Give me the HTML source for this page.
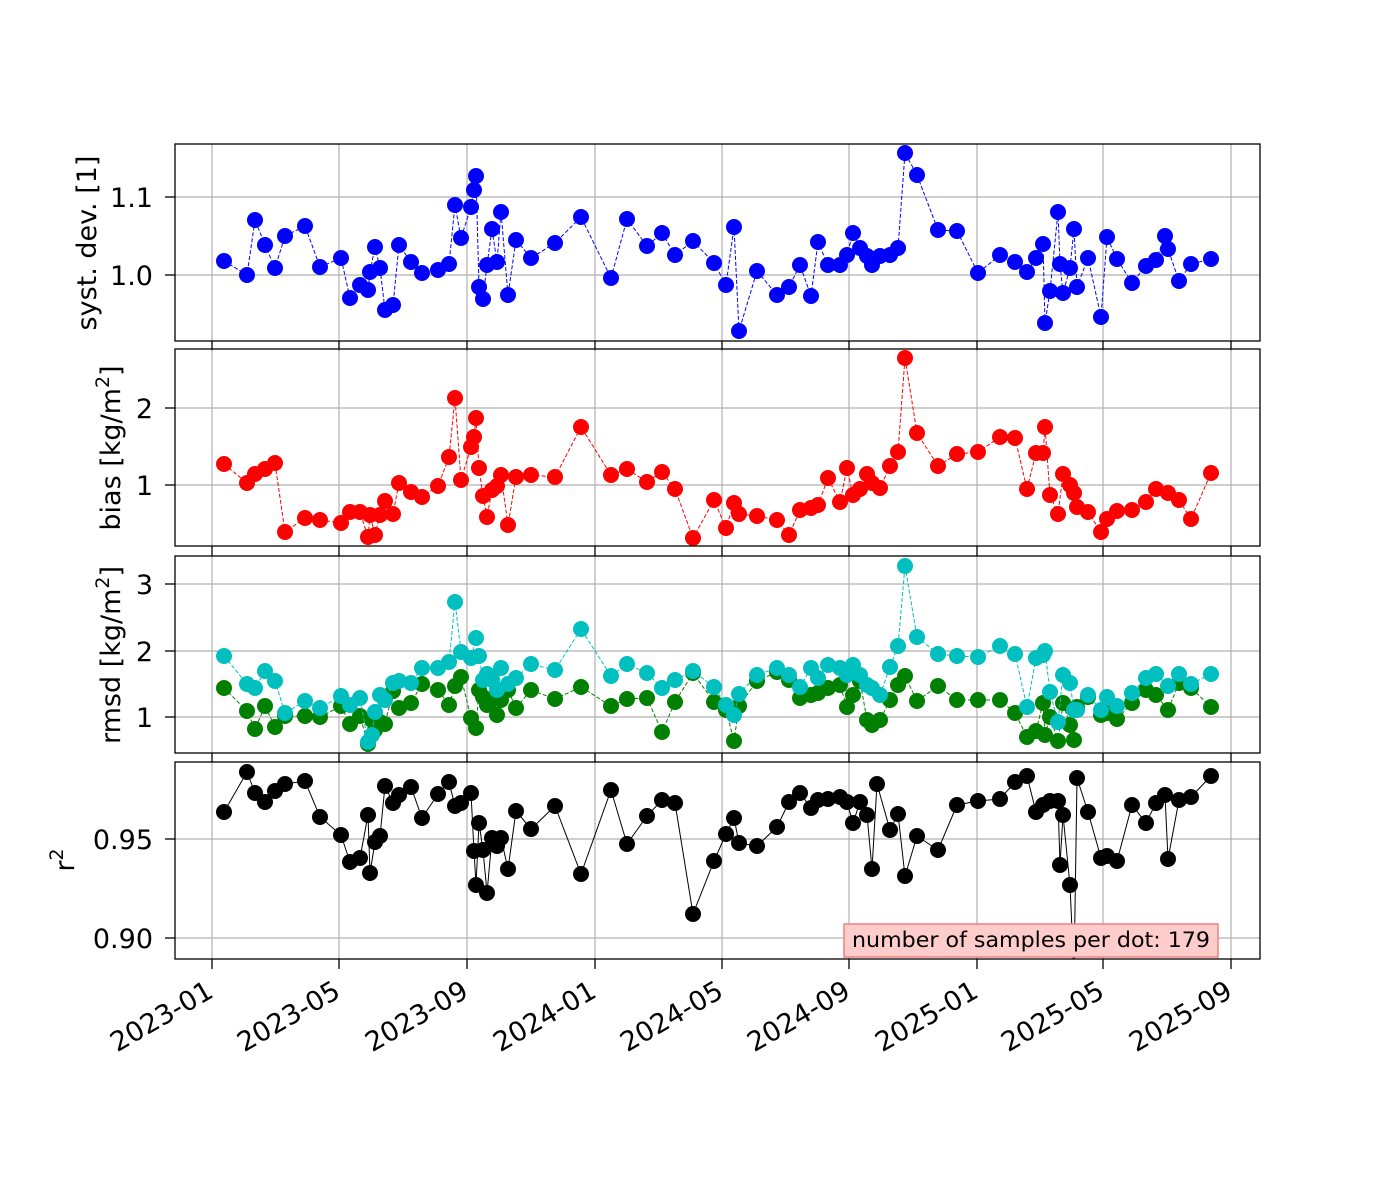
<!DOCTYPE html>
<html><head><meta charset="utf-8"><style>
body{margin:0;background:#fff}
svg{display:block}
text{font-family:"DejaVu Sans","Liberation Sans",sans-serif;fill:#000}
</style></head><body>
<svg id="s" width="1400" height="1200" xmlns="http://www.w3.org/2000/svg"></svg>
<script>
const S=document.getElementById('s');let h='';
const panels=[[144,341],[349,546],[556,753],[762,959]];
const X0=175,X1=1260;
const xt=[[212,'2023-01'],[339,'2023-05'],[467,'2023-09'],[595,'2024-01'],[722,'2024-05'],[849,'2024-09'],[977,'2025-01'],[1103,'2025-05'],[1231,'2025-09']];
const yt=[[[197,'1.1'],[275,'1.0']],[[408,'2'],[485,'1']],[[584,'3'],[651,'2'],[717,'1']],[[839,'0.95'],[938,'0.90']]];
h+='<defs>';panels.forEach((p,i)=>{h+=`<clipPath id="c${i}"><rect x="${X0}" y="${p[0]}" width="${X1-X0}" height="${p[1]-p[0]}"/></clipPath>`});h+='</defs>';
panels.forEach((p,i)=>{
 xt.forEach(t=>{h+=`<line x1="${t[0]}" x2="${t[0]}" y1="${p[0]}" y2="${p[1]}" stroke="#b0b0b0" stroke-width="1.2"/>`;h+=`<line x1="${t[0]}" x2="${t[0]}" y1="${p[1]}" y2="${p[1]+10}" stroke="#000" stroke-width="1.3"/>`});
 yt[i].forEach(t=>{h+=`<line x1="${X0}" x2="${X1}" y1="${t[0]}" y2="${t[0]}" stroke="#b0b0b0" stroke-width="1.2"/>`;h+=`<line x1="${X0-10}" x2="${X0}" y1="${t[0]}" y2="${t[0]}" stroke="#000" stroke-width="1.3"/><text x="${X0-22}" y="${t[0]+10}" font-size="27" text-anchor="end">${t[1]}</text>`});
});
function P(s){return s.match(/\d+,\d+/g).map(a=>a.split(',').map(Number))}
const blue=P(`(224,261),(247,275),(255,220),(265,245),(275,268),(285,236),(305,226),(320,267),(341,258),(350,298),(360,285),(368,290),(370,272),(375,247),(380,268),(385,310),(393,305),(399,245),(411,262),(422,273),(438,270),(449,264),(455,205),(461,238),(471,207),(474,190),(476,176),(479,287),(483,299),(487,265),(492,229),(497,262),(501,212),(508,295),(516,240),(531,258),(555,243),(581,217),(611,278),(627,219),(647,246),(662,233),(675,255),(693,241),(714,263),(726,285),(734,227),(739,331),(757,271),(777,295),(789,287),(800,265),(811,296),(818,242),(828,265),(840,265),(847,255),(853,233),(860,248),(867,256),(872,265),(880,256),(890,255),(898,248),(905,153),(917,175),(938,230),(957,231),(978,273),(1000,255),(1015,262),(1027,272),(1036,258),(1043,244),(1045,323),(1050,291),(1058,212),(1060,264),(1063,293),(1070,268),(1074,229),(1077,287),(1088,258),(1101,317),(1107,237),(1117,259),(1132,283),(1146,266),(1156,260),(1165,236),(1168,249),(1179,281),(1191,264),(1211,259)`);
const red=P(`(224,464),(247,483),(255,474),(265,469),(275,463),(285,532),(305,518),(320,520),(341,523),(350,512),(360,512),(368,537),(370,515),(375,535),(380,515),(385,501),(393,514),(399,483),(411,492),(422,497),(438,486),(449,457),(455,398),(461,480),(471,447),(474,437),(476,418),(479,468),(483,496),(487,517),(492,490),(497,486),(501,475),(508,525),(516,477),(531,475),(555,477),(581,427),(611,475),(627,469),(647,482),(662,472),(675,489),(693,538),(714,500),(726,528),(734,503),(739,514),(757,516),(777,520),(789,535),(800,510),(811,508),(818,505),(828,478),(840,502),(847,468),(853,495),(860,489),(867,474),(872,483),(880,488),(890,466),(898,452),(905,358),(917,433),(938,466),(957,454),(978,452),(1000,437),(1015,438),(1027,489),(1036,453),(1043,453),(1045,427),(1050,495),(1058,514),(1063,474),(1070,485),(1074,493),(1077,507),(1088,512),(1101,532),(1107,519),(1117,511),(1132,510),(1146,502),(1156,489),(1168,493),(1179,500),(1191,519),(1211,473)`);
const green=P(`(224,688),(247,711),(255,729),(265,706),(275,727),(285,716),(305,716),(320,717),(341,706),(350,724),(360,716),(368,744),(372,720),(375,730),(380,722),(385,724),(393,691),(399,708),(411,703),(422,684),(438,690),(449,705),(455,686),(461,677),(471,718),(476,728),(479,690),(483,697),(487,705),(492,700),(497,715),(501,700),(508,690),(516,708),(531,690),(555,699),(581,687),(611,706),(627,699),(647,698),(662,732),(675,702),(693,673),(714,702),(726,710),(734,741),(739,706),(757,681),(777,672),(789,680),(800,698),(811,695),(818,693),(828,688),(840,685),(847,707),(853,695),(860,681),(867,720),(872,725),(880,720),(890,700),(898,685),(905,676),(917,701),(938,686),(957,700),(978,700),(1000,700),(1015,713),(1027,737),(1036,731),(1043,703),(1045,735),(1050,717),(1058,741),(1063,703),(1070,725),(1074,740),(1077,707),(1088,697),(1101,715),(1107,713),(1117,719),(1132,703),(1146,690),(1156,695),(1168,710),(1179,683),(1191,688),(1211,707)`);
const cyan=P(`(224,656),(247,684),(255,688),(265,671),(275,681),(285,713),(305,701),(320,708),(341,696),(350,705),(360,698),(368,742),(372,735),(375,712),(380,695),(385,700),(393,683),(399,681),(411,683),(422,668),(438,668),(449,662),(455,602),(461,652),(471,658),(476,638),(479,656),(483,680),(487,674),(492,680),(497,690),(501,668),(508,684),(516,678),(531,664),(555,670),(581,629),(611,676),(627,664),(647,673),(662,688),(675,680),(693,671),(714,687),(726,705),(734,715),(739,694),(757,675),(777,668),(789,675),(800,687),(811,668),(818,678),(828,665),(840,668),(847,675),(853,665),(860,675),(867,685),(872,688),(880,695),(890,667),(898,646),(905,566),(917,637),(938,654),(957,656),(978,657),(1000,646),(1015,654),(1027,707),(1036,658),(1043,655),(1045,651),(1050,692),(1058,722),(1063,675),(1070,683),(1074,710),(1077,710),(1088,695),(1101,710),(1107,697),(1117,706),(1132,693),(1146,678),(1156,674),(1168,686),(1179,674),(1191,684),(1211,674)`);
const black=P(`(224,812),(247,772),(255,793),(265,802),(275,791),(285,784),(305,781),(320,817),(341,835),(350,862),(360,858),(368,815),(370,873),(375,842),(380,836),(385,786),(393,803),(399,795),(411,787),(422,818),(438,794),(449,782),(455,806),(461,803),(471,793),(474,851),(476,885),(479,823),(483,850),(487,893),(492,838),(497,846),(501,838),(508,869),(516,811),(531,829),(555,806),(581,874),(611,790),(627,844),(647,816),(662,800),(675,803),(693,914),(714,861),(726,834),(734,818),(739,843),(757,846),(777,827),(789,802),(800,793),(811,808),(818,800),(828,799),(840,797),(847,802),(853,823),(860,802),(867,815),(872,869),(877,784),(890,830),(898,814),(905,876),(917,836),(938,850),(957,805),(978,801),(1000,799),(1015,782),(1027,776),(1036,812),(1043,805),(1050,801),(1058,801),(1060,865),(1063,815),(1070,885),(1074,975),(1077,778),(1088,812),(1101,858),(1107,856),(1117,861),(1132,805),(1146,823),(1156,803),(1165,795),(1168,859),(1179,800),(1191,797),(1211,776)`);
function series(pts,col,dash,ci){
 h+=`<g clip-path="url(#c${ci})"><polyline fill="none" stroke="${col}" stroke-width="1" ${dash?'stroke-dasharray="4,2"':''} points="${pts.map(p=>p.join(',')).join(' ')}"/>`;
 pts.forEach(p=>h+=`<circle cx="${p[0]}" cy="${p[1]}" r="8" fill="${col}"/>`);h+='</g>';
}
series(blue,'#0000ff',1,0);series(red,'#ff0000',1,1);series(green,'#008000',1,2);series(cyan,'#00bfbf',1,2);series(black,'#000',0,3);
panels.forEach(p=>{h+=`<rect x="${X0}" y="${p[0]}" width="${X1-X0}" height="${p[1]-p[0]}" fill="none" stroke="#000" stroke-width="1.3"/>`});
xt.forEach(t=>{h+=`<text transform="translate(${t[0]+3},${996}) rotate(-30)" font-size="27" text-anchor="end" textLength="113" lengthAdjust="spacingAndGlyphs">${t[1]}</text>`});
const yl=[[243,'syst. dev. [1]'],[448,'bias [kg/m<tspan dy="-11" font-size="19">2</tspan><tspan dy="11">]</tspan>'],[655,'rmsd [kg/m<tspan dy="-11" font-size="19">2</tspan><tspan dy="11">]</tspan>'],[860,'r<tspan dy="-11" font-size="19">2</tspan>']];
const lx=[96,120,120,74];
yl.forEach((l,i)=>{h+=`<text transform="translate(${lx[i]},${l[0]}) rotate(-90)" font-size="27" text-anchor="middle">${l[1]}</text>`});
h+=`<rect x="844" y="924" width="374" height="33" fill="#ffcccc" stroke="#f08080" stroke-width="1.5"/><text x="852" y="947" font-size="21" textLength="358" lengthAdjust="spacingAndGlyphs">number of samples per dot: 179</text>`;
S.innerHTML=h;
</script>
</body></html>
